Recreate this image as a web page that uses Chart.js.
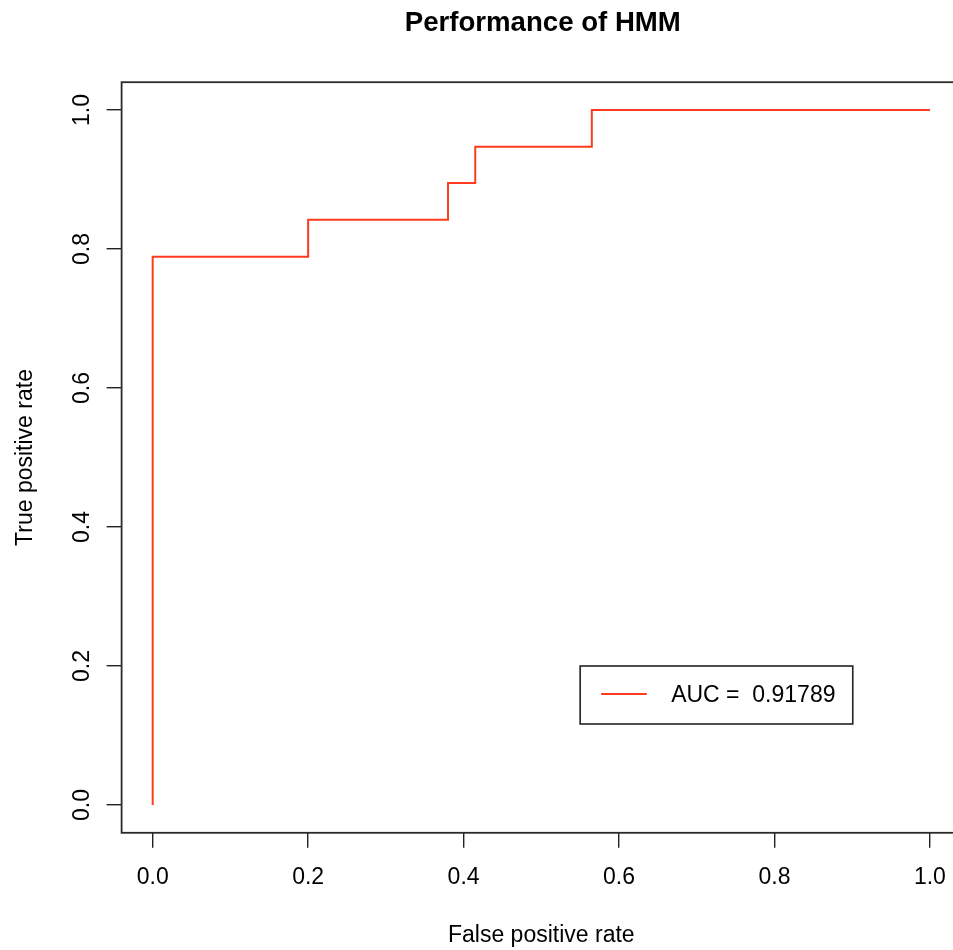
<!DOCTYPE html>
<html>
<head>
<meta charset="utf-8">
<script src="https://cdn.jsdelivr.net/npm/chart.js@4/dist/chart.umd.min.js"></script>
<style>
  html, body { margin: 0; padding: 0; background: #fff; overflow: hidden; }
  #wrap { width: 1000px; height: 950px; position: relative; }
</style>
</head>
<body>
<div id="wrap"><canvas id="c" width="1000" height="950"></canvas></div>
<script>
// ---- data ----
const fpr = [0, 0, 0.2, 0.2, 0.38, 0.38, 0.415, 0.415, 0.565, 0.565, 1];
const tpr = [0, 0.789, 0.789, 0.842, 0.842, 0.895, 0.895, 0.947, 0.947, 1, 1];
const xTicks = [0, 0.2, 0.4, 0.6, 0.8, 1.0];
const yTicks = [0, 0.2, 0.4, 0.6, 0.8, 1.0];
const titleText = 'Performance of HMM';
const xTitle = 'False positive rate';
const yTitle = 'True positive rate';
const legendText = 'AUC =  0.91789';
const legendAnchor = [0.55, 0.2]; // top-left of legend box, data units

const FONT = '"Liberation Sans", Arial, Helvetica, sans-serif';
const LINE_COLOR = '#FF3B1E';

const points = fpr.map((x, i) => ({ x: x, y: tpr[i] }));

const decorPlugin = {
  id: 'decor',
  beforeDatasetsDraw(chart) {
    const { ctx, chartArea: a } = chart;
    ctx.save();
    ctx.strokeStyle = '#2b2b2b';
    ctx.lineWidth = 1.8;
    ctx.strokeRect(a.left, a.top, a.right - a.left, a.bottom - a.top);
    ctx.restore();
  },
  afterDraw(chart) {
    const { ctx, chartArea: a } = chart;
    const xs = chart.scales.x, ys = chart.scales.y;
    const cx = (a.left + a.right) / 2;
    const cy = (a.top + a.bottom) / 2;
    ctx.save();
    ctx.fillStyle = '#000';
    // title
    ctx.font = 'bold 27.6px ' + FONT;
    ctx.textAlign = 'center';
    ctx.textBaseline = 'alphabetic';
    ctx.fillText(titleText, cx + 1.5, 31);
    // x title
    ctx.font = '23px ' + FONT;
    ctx.fillText(xTitle, cx, 942);
    // y title
    ctx.save();
    ctx.translate(32, cy);
    ctx.rotate(-Math.PI / 2);
    ctx.fillText(yTitle, 0, 0);
    ctx.restore();
    // y tick labels (rotated, R style)
    ys.ticks.forEach(t => {
      const py = ys.getPixelForValue(t.value);
      ctx.save();
      ctx.translate(89, py);
      ctx.rotate(-Math.PI / 2);
      ctx.fillText(t.value.toFixed(1), 0, 0);
      ctx.restore();
    });
    // legend
    const lx = xs.getPixelForValue(legendAnchor[0]);
    const ly = ys.getPixelForValue(legendAnchor[1]);
    const lw = 272.6, lh = 58;
    ctx.fillStyle = '#fff';
    ctx.fillRect(lx, ly, lw, lh);
    ctx.strokeStyle = '#222';
    ctx.lineWidth = 1.6;
    ctx.strokeRect(lx, ly, lw, lh);
    const ds = chart.data.datasets[0];
    ctx.strokeStyle = ds.borderColor;
    ctx.lineWidth = ds.borderWidth;
    ctx.beginPath();
    ctx.moveTo(lx + 21, ly + 28);
    ctx.lineTo(lx + 66.6, ly + 28);
    ctx.stroke();
    ctx.fillStyle = '#000';
    ctx.textAlign = 'left';
    ctx.font = '23px ' + FONT;
    ctx.fillText(ds.label, lx + 91, ly + 36);
    ctx.restore();
  }
};

new Chart(document.getElementById('c'), {
  type: 'scatter',
  data: {
    datasets: [{
      label: legendText,
      data: points,
      showLine: true,
      borderColor: LINE_COLOR,
      backgroundColor: LINE_COLOR,
      borderWidth: 2,
      pointRadius: 0,
      pointHoverRadius: 0,
      tension: 0,
      fill: false
    }]
  },
  options: {
    responsive: false,
    animation: false,
    events: [],
    layout: { padding: { top: 82.2, right: 39, left: 0, bottom: 0 } },
    plugins: { legend: { display: false }, title: { display: false }, tooltip: { enabled: false } },
    scales: {
      x: {
        type: 'linear',
        min: -0.04, max: 1.04,
        afterBuildTicks: s => { s.ticks = xTicks.map(v => ({ value: v })); },
        afterFit: s => { s.height = 117.2; },
        border: { display: false },
        grid: { display: true, drawOnChartArea: false, drawTicks: true, tickLength: 15, color: '#222', lineWidth: 1.4 },
        ticks: {
          autoSkip: false, maxRotation: 0, minRotation: 0, padding: 16,
          color: '#000', font: { family: FONT, size: 23 },
          callback: v => Number(v).toFixed(1)
        }
      },
      y: {
        type: 'linear',
        min: -0.04, max: 1.04,
        afterBuildTicks: s => { s.ticks = yTicks.map(v => ({ value: v })); },
        afterFit: s => { s.width = 121.6; },
        border: { display: false },
        grid: { display: true, drawOnChartArea: false, drawTicks: true, tickLength: 15, color: '#222', lineWidth: 1.4 },
        ticks: {
          autoSkip: false, color: 'rgba(0,0,0,0)', font: { family: FONT, size: 23 },
          callback: v => Number(v).toFixed(1)
        }
      }
    }
  },
  plugins: [decorPlugin]
});
</script>
</body>
</html>
